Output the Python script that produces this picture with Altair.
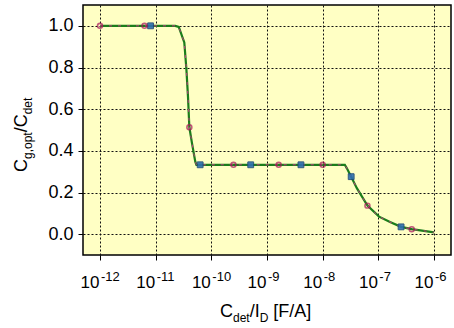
import altair as alt
import pandas as pd

# ---- data ----
curve_x = [1e-12, 2.25e-11, 2.6e-11, 3.27e-11, 3.56e-11, 3.81e-11, 4.03e-11, 4.5e-11,
           5.15e-11, 5.4e-11, 2.5e-8, 2.72e-8, 3.25e-8, 4.11e-8, 6.37e-8, 1.03e-7,
           1.62e-7, 2.56e-7, 3.98e-7, 1e-6]
curve_y = [1.0, 1.0, 0.995, 0.92, 0.795, 0.66, 0.513, 0.436,
           0.348, 0.333, 0.333, 0.316, 0.276, 0.221, 0.137, 0.084,
           0.058, 0.035, 0.024, 0.009]

circle_x = [1e-12, 6.3e-12, 4.03e-11, 2.5e-10, 1.62e-9, 1e-8, 6.37e-8, 3.98e-7]
circle_y = [1.0, 1.0, 0.513, 0.333, 0.333, 0.333, 0.137, 0.024]

square_x = [8.1e-12, 6.3e-11, 5.1e-10, 4.07e-9, 3.25e-8, 2.56e-7]
square_y = [1.0, 0.333, 0.333, 0.333, 0.276, 0.035]

tick_exponents = [-12, -11, -10, -9, -8, -7, -6]
y_ticks = [0.0, 0.2, 0.4, 0.6, 0.8, 1.0]

# ---- layout ----
W, H = 368, 250
PL, PT = 83, 5
FONT = "Liberation Sans"
xdom = [10 ** -12.305, 10 ** -5.695]
xscale = alt.Scale(type="log", domain=xdom, nice=False)
yscale = alt.Scale(domain=[-0.1, 1.1], nice=False, zero=False)

curve = pd.DataFrame({"x": curve_x, "y": curve_y})
circ = pd.DataFrame({"x": circle_x, "y": circle_y})
sq = pd.DataFrame({"x": square_x, "y": square_y})
ticks = pd.DataFrame({"x": [10.0 ** e for e in tick_exponents],
                      "exp": [str(e) for e in tick_exponents]})

# x axis: the base "10" of each label is an axis label; the exponent is a text layer
xenc = alt.X("x:Q", scale=xscale,
             axis=alt.Axis(values=[10.0 ** e for e in tick_exponents], labelExpr="'10'",
                           labelFont=FONT, labelFontSize=17, labelColor="black",
                           labelAlign="right", labelBaseline="alphabetic", labelOffset=-1,
                           labelPadding=27, labelFlush=False, labelOverlap=False,
                           title=None, grid=True, gridColor="#111", gridDash=[2, 2],
                           gridWidth=1, tickColor="black", tickSize=5, domain=False))
yenc = alt.Y("y:Q", scale=yscale,
             axis=alt.Axis(values=y_ticks, format=".1f", title=None, grid=True,
                           gridColor="#111", gridDash=[2, 2], gridWidth=1,
                           tickColor="black", tickSize=5, domain=False,
                           labelFont=FONT, labelFontSize=18, labelColor="black",
                           labelPadding=5))

green = alt.Chart(curve).mark_line(color="#1b7d1b", strokeWidth=2.2).encode(x=xenc, y=yenc)
magenta = alt.Chart(curve).mark_line(color="#c03a80", strokeWidth=1, strokeDash=[3, 6]).encode(
    x=alt.X("x:Q", scale=xscale), y=alt.Y("y:Q", scale=yscale))
squares = alt.Chart(sq).mark_point(shape="square", filled=True, size=34, color="#2f6fb0",
                                   stroke="#1d4a7a", strokeWidth=1, opacity=0.9).encode(
    x=alt.X("x:Q", scale=xscale), y=alt.Y("y:Q", scale=yscale))
circles = alt.Chart(circ).mark_point(shape="circle", filled=False, size=24, color="#a8145a",
                                     strokeWidth=1.6).encode(
    x=alt.X("x:Q", scale=xscale), y=alt.Y("y:Q", scale=yscale))

exp_lab = alt.Chart(ticks).mark_text(font=FONT, fontSize=13, align="left", baseline="alphabetic",
                                     dx=1, color="black").encode(
    x=alt.X("x:Q", scale=xscale), y=alt.value(281 - PT), text=alt.Text("exp:N"))

CW = {'C': 0.722, 'd': 0.556, 'e': 0.556, 't': 0.278, '/': 0.278, 'I': 0.278, 'D': 0.722,
      ' ': 0.278, '[': 0.278, ']': 0.278, 'F': 0.611, 'A': 0.667, 'g': 0.556, ',': 0.278,
      'o': 0.556, 'p': 0.556}


def tw(s, size):
    return sum(CW.get(c, 0.556) for c in s) * size


one = pd.DataFrame({"a": [0]})


def piece(s, x, y, size, angle=0):
    return alt.Chart(one).mark_text(text=s.strip(), font=FONT, fontSize=size, align="left",
                                    baseline="alphabetic", angle=angle, color="black").encode(
        x=alt.value(x - PL), y=alt.value(y - PT))


MAIN, SUB = 18, 12
# x title: C_det/I_D [F/A]
xt_parts = [("C", MAIN), ("det", SUB), ("/I", MAIN), ("D", SUB), (" ", MAIN), ("[F/A]", MAIN)]
layers = []
cx = 220
for s, sz in xt_parts:
    if s.strip():
        layers.append(piece(s, cx, 317 if sz == MAIN else 322, sz))
    cx += tw(s, sz)

# y title: C_g,opt/C_det (rotated)
yt_parts = [("C", MAIN), ("g,opt", SUB), ("/C", MAIN), ("det", SUB)]
cy = 172
for s, sz in yt_parts:
    layers.append(piece(s, 27 if sz == MAIN else 32, cy, sz, angle=270))
    cy -= tw(s, sz)

chart = alt.layer(green, magenta, squares, circles, exp_lab, *layers).properties(
    width=W, height=H,
    padding={"left": PL, "top": PT, "right": 454 - PL - W, "bottom": 328 - PT - H},
    autosize=alt.AutoSizeParams(type="none"),
    background="white",
).configure_view(fill="#FFFFC4", stroke="black", strokeWidth=1.5)

chart.save("out.html", embed_options={"renderer": "svg", "actions": False})
